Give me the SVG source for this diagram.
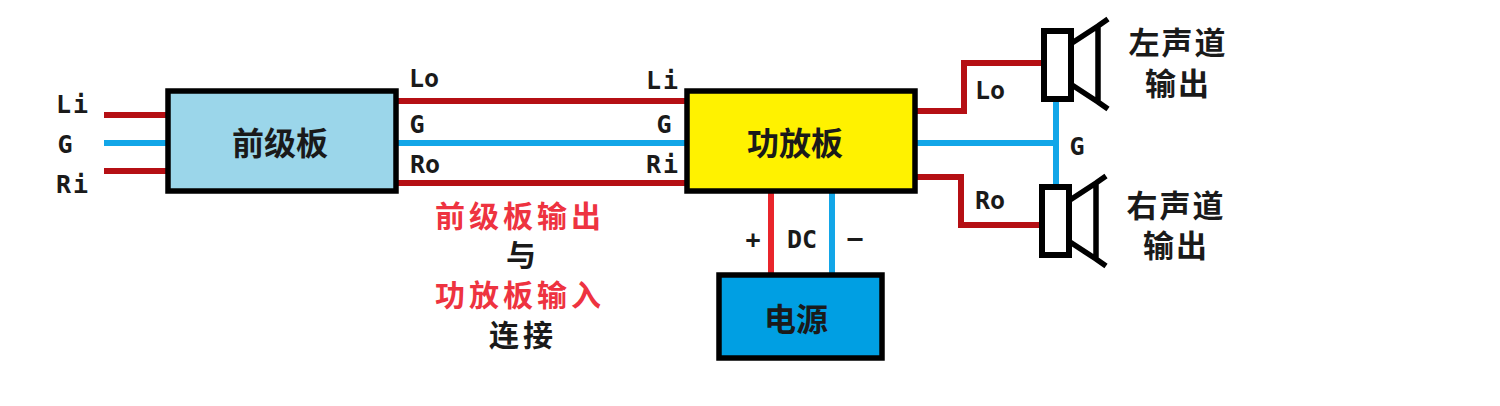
<svg xmlns="http://www.w3.org/2000/svg" width="1500" height="406" viewBox="0 0 1500 406">
<style>
text{font-family:"Noto Sans CJK SC","Noto Sans CJK JP","DejaVu Sans",sans-serif;font-weight:700;fill:#1a1a1a;text-anchor:middle}
.lat{font-family:"DejaVu Sans Mono","Liberation Mono",monospace;font-size:25px}
.wide{letter-spacing:2px}
.cjk{font-size:32px}
.ch{font-size:31px;letter-spacing:2px}
.low{font-size:30px;letter-spacing:4px}
.red{fill:#ee3340}
.box{stroke:#000;stroke-width:5.5}
.wr,.wb,.wp{fill:none;stroke-width:6}
.wr{stroke:#b50f14}.wb{stroke:#12a6e8}.wp{stroke:#e9252b}
.spk{fill:#fff;stroke:#000;stroke-width:6}
.horn{fill:none;stroke:#000;stroke-width:5.5}
</style>
<rect width="1500" height="406" fill="#fff"/>
<g id="connectors">
<path class="wr" d="M104 115H168M104 171H168M396 101H688M396 183H688"/>
<path class="wb" d="M104 143H168M396 143H688M914 143H1056M1056 100V187"/>
<path class="wr" d="M914 111H964V63H1042M914 177H961V225H1040"/>
<path class="wp" d="M771 191V274"/>
<path class="wb" d="M832 191V274"/>
</g>
<g id="preamp"><rect class="box" x="168" y="91" width="228" height="100" fill="#9bd6ea"/><text class="cjk" x="280" y="155">前级板</text></g>
<g id="amp"><rect class="box" x="687" y="91" width="228" height="100" fill="#fff200"/><text class="cjk" x="795" y="155">功放板</text></g>
<g id="power"><rect class="box" x="719" y="275" width="163" height="83" fill="#009fe3"/><text class="cjk" x="796" y="331">电源</text></g>
<g id="speaker-left"><rect class="spk" x="1044" y="31" width="27" height="68"/><path class="horn" d="M1072 43L1098 26V102L1072 85M1098 26L1108 19M1098 102L1108 109"/><text class="ch" x="1178" y="54">左声道</text><text class="ch" x="1178" y="95">输出</text></g>
<g id="speaker-right"><rect class="spk" x="1042" y="187" width="27" height="68"/><path class="horn" d="M1070 200L1096 183V259L1070 242M1096 183L1106 176M1096 259L1106 266"/><text class="ch" x="1176" y="217">右声道</text><text class="ch" x="1176" y="257">输出</text></g>
<g id="labels">
<text class="lat wide" x="73" y="113">Li</text><text class="lat" x="65" y="153">G</text><text class="lat wide" x="73" y="193">Ri</text>
<text class="lat" x="424" y="87">Lo</text><text class="lat" x="417" y="133">G</text><text class="lat" x="425" y="173">Ro</text>
<text class="lat wide" x="663" y="89">Li</text><text class="lat" x="664" y="133">G</text><text class="lat wide" x="663" y="173">Ri</text>
<text class="lat" x="990" y="99">Lo</text><text class="lat" x="1077" y="155">G</text><text class="lat" x="990" y="209">Ro</text>
<text class="lat" x="753" y="248">+</text><text class="lat" x="802" y="248">DC</text><text class="lat" x="855" y="246">–</text>
<text class="low red" x="520" y="227">前级板输出</text><text class="low" x="523" y="266">与</text><text class="low red" x="520" y="306">功放板输入</text><text class="low" x="523" y="346">连接</text>
</g>
</svg>
